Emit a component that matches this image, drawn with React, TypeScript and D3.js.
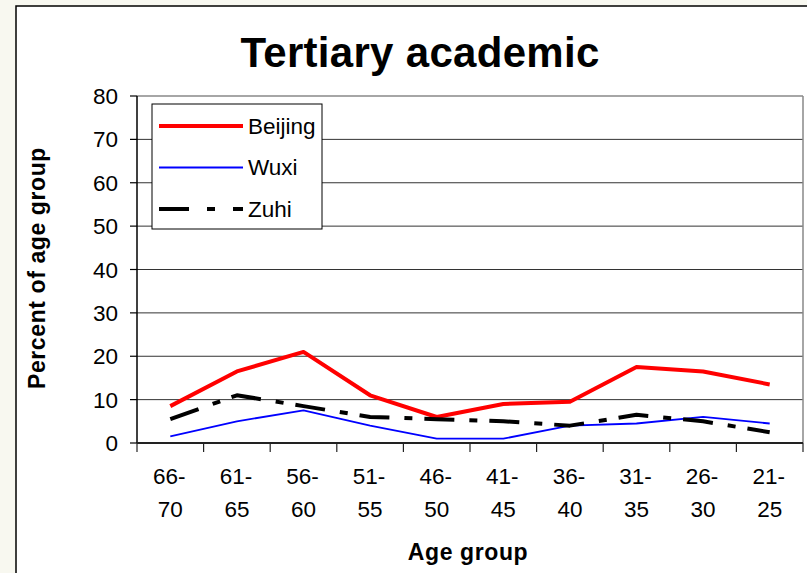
import React from "react";
import * as d3 from "d3";

const categories = ["66-70", "61-65", "56-60", "51-55", "46-50", "41-45", "36-40", "31-35", "26-30", "21-25"];
const beijing = [8.5, 16.5, 21, 11, 6, 9, 9.5, 17.5, 16.5, 13.5];
const wuxi = [1.5, 5, 7.5, 4, 1, 1, 4, 4.5, 6, 4.5];
const zuhi = [5.5, 11, 8.5, 6, 5.5, 5, 4, 6.5, 5, 2.5];
const yTicks = [0, 10, 20, 30, 40, 50, 60, 70, 80];
const seriesNames = ["Beijing", "Wuxi", "Zuhi"];

const W = 807;
const H = 573;
const FONT = "'Liberation Sans', Arial, sans-serif";

const plot = { left: 137, right: 803, top: 96, bottom: 443 };

const styles = [
  { color: "#ff0000", width: 4, dash: undefined as string | undefined },
  { color: "#0000ff", width: 1.8, dash: undefined as string | undefined },
  { color: "#000000", width: 4, dash: "30 15 8 12" },
];

export default function App() {
  const x = d3.scaleBand<string>().domain(categories).range([plot.left, plot.right]);
  const y = d3.scaleLinear().domain([0, 80]).range([plot.bottom, plot.top]);
  const line = d3
    .line<number>()
    .x((_, i) => (x(categories[i]) as number) + x.bandwidth() / 2)
    .y((d) => y(d));
  const series = [beijing, wuxi, zuhi];
  const boundaries = categories.map((c) => x(c) as number).concat([plot.right]);

  const legend = { x: 152, y: 104, w: 170, h: 125 };
  const legendRows = [126, 167.5, 209];

  return (
    <div style={{ position: "fixed", left: 0, top: 0, width: W, height: H }}>
      <svg width={W} height={H} style={{ display: "block" }}>
        <rect x={0} y={0} width={W} height={H} fill="#f8f8f0" />
        <rect x={16} y={6} width={W + 20} height={H + 20} fill="#ffffff" stroke="#000" strokeWidth={1.5} />
        <text x={420} y={67} textAnchor="middle" fontFamily={FONT} fontWeight="bold" fontSize={42} letterSpacing={0.3}>
          Tertiary academic
        </text>
        {/* gridlines */}
        {yTicks.filter((t) => t > 0 && t < 80).map((t) => (
          <line key={t} x1={plot.left} x2={plot.right} y1={y(t)} y2={y(t)} stroke="#333" strokeWidth={1} />
        ))}
        {/* plot border top/right */}
        <line x1={plot.left} x2={plot.right} y1={plot.top} y2={plot.top} stroke="#888" strokeWidth={1.5} />
        <line x1={plot.right} x2={plot.right} y1={plot.top} y2={plot.bottom} stroke="#888" strokeWidth={1.5} />
        {/* y axis */}
        <line x1={plot.left} x2={plot.left} y1={plot.top} y2={plot.bottom} stroke="#000" strokeWidth={1.5} />
        {yTicks.map((t) => (
          <g key={t}>
            <line x1={plot.left - 7} x2={plot.left} y1={y(t)} y2={y(t)} stroke="#000" strokeWidth={1.2} />
            <text x={118} y={y(t) + 8} textAnchor="end" fontFamily={FONT} fontSize={22.5}>
              {t}
            </text>
          </g>
        ))}
        {/* x axis */}
        <line x1={plot.left} x2={plot.right} y1={plot.bottom} y2={plot.bottom} stroke="#222" strokeWidth={2} />
        {boundaries.map((b, i) => (
          <line key={i} x1={b} x2={b} y1={plot.bottom} y2={plot.bottom + 9} stroke="#222" strokeWidth={1.2} />
        ))}
        {categories.map((c) => {
          const [a, b] = c.split("-");
          const cx = (x(c) as number) + x.bandwidth() / 2;
          return (
            <text key={c} textAnchor="middle" fontFamily={FONT} fontSize={22.5}>
              <tspan x={cx - 1} y={484}>{a + "-"}</tspan>
              <tspan x={cx} y={517}>{b}</tspan>
            </text>
          );
        })}
        {/* series */}
        {series.map((s, i) => (
          <path
            key={i}
            d={line(s) as string}
            fill="none"
            stroke={styles[i].color}
            strokeWidth={styles[i].width}
            strokeDasharray={styles[i].dash}
            strokeLinejoin="round"
          />
        ))}
        {/* legend */}
        <rect x={legend.x} y={legend.y} width={legend.w} height={legend.h} fill="#fff" stroke="#000" strokeWidth={1} />
        {seriesNames.map((n, i) => (
          <g key={n}>
            <line
              x1={159}
              x2={243}
              y1={legendRows[i]}
              y2={legendRows[i]}
              stroke={styles[i].color}
              strokeWidth={styles[i].width}
              strokeDasharray={i === 2 ? "30 18 8 18" : undefined}
            />
            <text x={248} y={legendRows[i] + 7.5} fontFamily={FONT} fontSize={22.5}>
              {n}
            </text>
          </g>
        ))}
        {/* axis titles */}
        <text
          transform={`translate(45,268) rotate(-90)`}
          textAnchor="middle"
          fontFamily={FONT}
          fontWeight="bold"
          fontSize={23}
          letterSpacing={0.6}
        >
          Percent of age group
        </text>
        <text x={468} y={560} textAnchor="middle" fontFamily={FONT} fontWeight="bold" fontSize={23} letterSpacing={0.6}>
          Age group
        </text>
      </svg>
    </div>
  );
}
